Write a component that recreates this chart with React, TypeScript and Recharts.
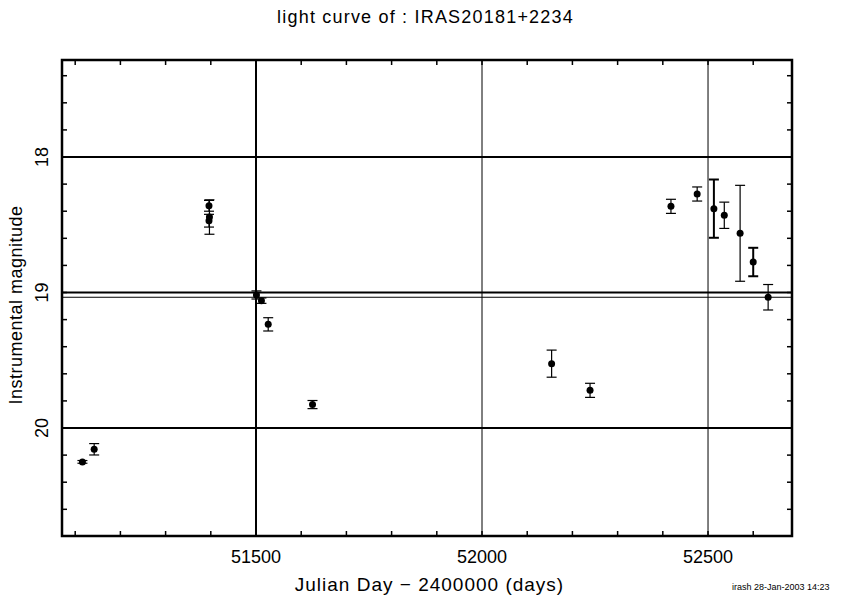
import React from "react";
import {
  ComposedChart,
  Scatter,
  ErrorBar,
  XAxis,
  YAxis,
  ReferenceLine,
  ReferenceArea,
} from "recharts";

// observations: julian day - 2400000, instrumental magnitude, 1-sigma error
const julianDays = [51116, 51142, 51396, 51396, 51397, 51501, 51512, 51527, 51625, 52154, 52239, 52418, 52476, 52513, 52536, 52571, 52600, 52633];
const magnitudes = [20.25, 20.157, 18.36, 18.47, 18.443, 19.018, 19.06, 19.235, 19.827, 19.525, 19.722, 18.364, 18.273, 18.381, 18.43, 18.563, 18.775, 19.035];
const magErrors = [0.01, 0.042, 0.04, 0.047, 0.127, 0.03, 0.02, 0.049, 0.03, 0.1, 0.052, 0.052, 0.052, 0.215, 0.097, 0.354, 0.105, 0.094];
const heavyBar = [false, false, false, false, false, false, false, false, false, false, false, false, false, true, false, false, true, false];

const xTicks = [51100, 51200, 51300, 51400, 51500, 51600, 51700, 51800, 51900, 52000, 52100, 52200, 52300, 52400, 52500, 52600];
const xLabels = [51500, 52000, 52500];
const yTicks = [17.4, 17.6, 17.8, 18, 18.2, 18.4, 18.6, 18.8, 19, 19.2, 19.4, 19.6, 19.8, 20, 20.2, 20.4, 20.6];
const yLabels = [18, 19, 20];

const thickH = [18, 19, 20];
const thinH = [19.035];
const thickV = [51500];
const thinV = [52000, 52500];

const X_DOMAIN = [51070.8, 52685.8];
const Y_DOMAIN = [17.284, 20.797];

const W = 851;
const H = 596;
const AXIS_X_H = 30;
const AXIS_Y_W = 30;
const M = { top: 60, left: 62 - AXIS_Y_W, right: 59, bottom: 60 - AXIS_X_H };
const PLOT_LEFT = 62;
const PLOT_RIGHT = W - M.right;
const PLOT_TOP = M.top;
const PLOT_BOTTOM = H - 60;

const FONT = "'Liberation Sans', Arial, sans-serif";

const rows = julianDays.map((jd, i) => ({
  jd,
  mag: magnitudes[i],
  err: magErrors[i],
  heavy: heavyBar[i],
}));
const thinRows = rows.filter((r) => !r.heavy);
const heavyRows = rows.filter((r) => r.heavy);

const Dot = (props: any) => {
  const { cx, cy } = props;
  if (cx == null || cy == null) return null;
  return <circle cx={cx} cy={cy} r={3.5} fill="#000" />;
};

const XTick = (props: any) => {
  const x = props.payload.coordinate;
  const v = props.payload.value;
  return (
    <g>
      <line x1={x} x2={x} y1={PLOT_BOTTOM} y2={PLOT_BOTTOM - 5} stroke="#000" strokeWidth={1.5} />
      <line x1={x} x2={x} y1={PLOT_TOP} y2={PLOT_TOP + 5} stroke="#000" strokeWidth={1.5} />
      {xLabels.includes(v) && (
        <text x={x} y={PLOT_BOTTOM + 27} textAnchor="middle" fontFamily={FONT} fontSize={18} fill="#000">
          {v}
        </text>
      )}
    </g>
  );
};

const YTick = (props: any) => {
  const y = props.payload.coordinate;
  const v = props.payload.value;
  return (
    <g>
      <line x1={PLOT_LEFT} x2={PLOT_LEFT + 5} y1={y} y2={y} stroke="#000" strokeWidth={1.5} />
      <line x1={PLOT_RIGHT} x2={PLOT_RIGHT - 5} y1={y} y2={y} stroke="#000" strokeWidth={1.5} />
      {yLabels.includes(v) && (
        <text
          x={PLOT_LEFT - 19}
          y={y}
          textAnchor="middle"
          dominantBaseline="middle"
          transform={`rotate(-90 ${PLOT_LEFT - 19} ${y})`}
          fontFamily={FONT}
          fontSize={18}
          fill="#000"
        >
          {v}
        </text>
      )}
    </g>
  );
};

export default function App() {
  return (
    <div style={{ position: "absolute", left: 0, top: 0, width: W, height: H, background: "#fff" }}>
      <ComposedChart width={W} height={H} margin={M}>
        <XAxis
          type="number"
          dataKey="jd"
          domain={X_DOMAIN}
          ticks={xTicks}
          interval={0}
          allowDataOverflow
          height={AXIS_X_H}
          axisLine={false}
          tickLine={false}
          tick={<XTick />}
        />
        <YAxis
          type="number"
          dataKey="mag"
          domain={Y_DOMAIN}
          reversed
          ticks={yTicks}
          interval={0}
          allowDataOverflow
          width={AXIS_Y_W}
          axisLine={false}
          tickLine={false}
          tick={<YTick />}
        />
        {thickH.map((v) => (
          <ReferenceLine key={"h" + v} y={v} stroke="#000" strokeWidth={2} />
        ))}
        {thinH.map((v) => (
          <ReferenceLine key={"t" + v} y={v} stroke="#000" strokeWidth={1} />
        ))}
        {thickV.map((v) => (
          <ReferenceLine key={"v" + v} x={v} stroke="#000" strokeWidth={2} />
        ))}
        {thinV.map((v) => (
          <ReferenceLine key={"w" + v} x={v} stroke="#000" strokeWidth={1} />
        ))}
        <ReferenceArea
          x1={X_DOMAIN[0]}
          x2={X_DOMAIN[1]}
          y1={Y_DOMAIN[0]}
          y2={Y_DOMAIN[1]}
          fill="none"
          fillOpacity={0}
          stroke="#000"
          strokeWidth={2.5}
          ifOverflow="visible"
        />
        <Scatter data={thinRows} dataKey="mag" shape={<Dot />} isAnimationActive={false}>
          <ErrorBar dataKey="err" direction="y" width={5} stroke="#000" strokeWidth={1.2} isAnimationActive={false} />
        </Scatter>
        <Scatter data={heavyRows} dataKey="mag" shape={<Dot />} isAnimationActive={false}>
          <ErrorBar dataKey="err" direction="y" width={5} stroke="#000" strokeWidth={2} isAnimationActive={false} />
        </Scatter>
      </ComposedChart>
      <div style={{ position: "absolute", left: 0, top: 7, width: W, textAlign: "center", fontFamily: FONT, fontSize: 18, letterSpacing: 1.2 }}>
        light curve of : IRAS20181+2234
      </div>
      <div style={{ position: "absolute", left: 4, top: 574, width: W, textAlign: "center", fontFamily: FONT, fontSize: 19, letterSpacing: 1 }}>
        Julian Day − 2400000 (days)
      </div>
      <div
        style={{
          position: "absolute",
          left: 16,
          top: 305,
          transform: "translate(-50%, -50%) rotate(-90deg)",
          whiteSpace: "nowrap",
          fontFamily: FONT,
          fontSize: 18,
          letterSpacing: 0.5,
        }}
      >
        Instrumental magnitude
      </div>
      <div style={{ position: "absolute", left: 732, top: 582, fontFamily: FONT, fontSize: 9, whiteSpace: "nowrap" }}>
        irash 28-Jan-2003 14:23
      </div>
    </div>
  );
}
